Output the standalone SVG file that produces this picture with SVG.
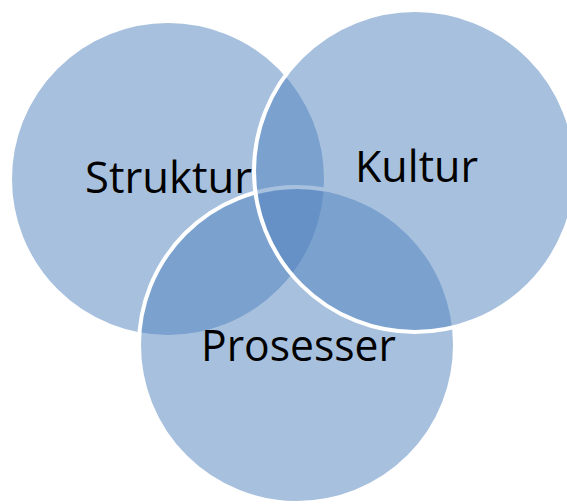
<svg xmlns="http://www.w3.org/2000/svg" width="567" height="504" viewBox="0 0 567 504">
  <style>
    .c { fill: #4F81BD; fill-opacity: 0.5; stroke: #FFFFFF; stroke-width: 4; }
    .t { font-family: "Open Sans", "Noto Sans", "Liberation Sans", sans-serif; font-size: 44px; fill: #000000; }
  </style>
  <rect width="567" height="504" fill="#FFFFFF"/>
  <g id="struktur">
    <circle class="c" cx="168" cy="179" r="158"/>
  </g>
  <g id="prosesser">
    <circle class="c" cx="297" cy="345" r="158"/>
  </g>
  <g id="kultur">
    <circle class="c" cx="415" cy="171" r="161"/>
  </g>
  <g id="labels">
    <text class="t" x="85" y="193" textLength="167" lengthAdjust="spacingAndGlyphs">Struktur</text>
    <text class="t" x="355" y="182" textLength="123" lengthAdjust="spacingAndGlyphs">Kultur</text>
    <text class="t" x="201" y="361" textLength="195" lengthAdjust="spacingAndGlyphs">Prosesser</text>
  </g>
  <g id="connectors"></g>
</svg>
